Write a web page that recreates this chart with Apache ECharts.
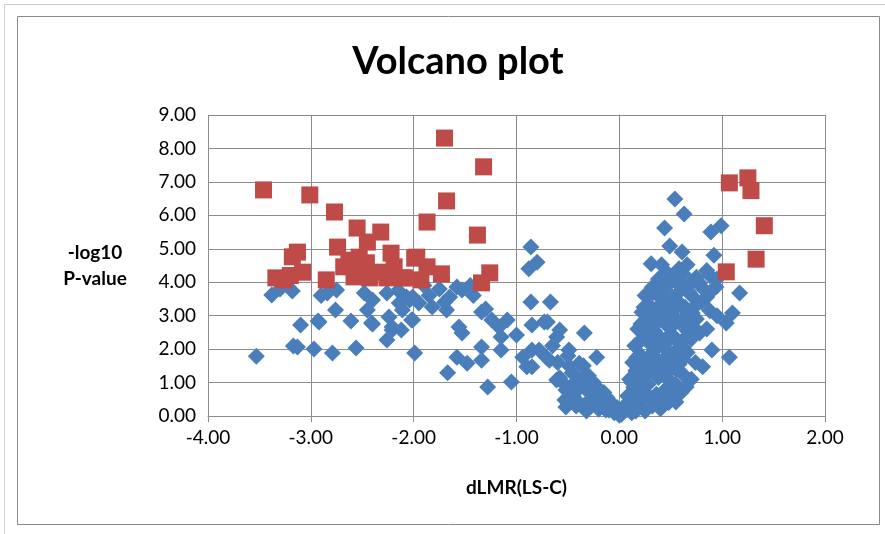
<!DOCTYPE html>
<html><head><meta charset="utf-8">
<script src="https://cdn.jsdelivr.net/npm/echarts@6/dist/echarts.min.js"></script>
<style>html,body{margin:0;padding:0;background:#fff;}#c{width:885px;height:534px;}</style>
</head><body><div id="c"></div>
<script>
const titleText = 'Volcano plot';
const xName = 'dLMR(LS-C)';
const yName = '-log10\nP-value';
const xTicks = [-4, -3, -2, -1, 0, 1, 2];
const yTicks = [0, 1, 2, 3, 4, 5, 6, 7, 8, 9];

const significant = [
  [-3.46,6.76],[-3.01,6.61],[-2.77,6.10],[-1.70,8.31],[-1.32,7.45],[-1.68,6.43],[-1.87,5.80],[-1.38,5.41],
  [-2.55,5.62],[-2.32,5.50],[-2.74,5.05],[-2.45,5.20],[-3.13,4.90],[-3.18,4.76],[-2.22,4.87],[-1.99,4.72],
  [-3.08,4.30],[-3.34,4.13],[-3.26,4.07],[-2.85,4.07],[-2.68,4.46],[-2.58,4.16],[-2.46,4.58],[-2.43,4.13],
  [-2.26,4.13],[-2.19,4.46],[-2.11,4.13],[-2.63,4.66],[-2.53,4.75],[-1.97,4.75],[-1.87,4.46],[-1.73,4.25],
  [-2.09,4.13],[-1.93,4.07],[-1.26,4.28],[-1.34,3.98],[-3.20,4.20],[-2.55,4.30],[-2.35,4.30],
  [1.07,6.97],[1.25,7.12],[1.28,6.74],[1.41,5.69],[1.33,4.69],[1.04,4.31]
];

const notSignificant = [
  [-3.53,1.79],[-3.38,3.62],[-3.18,3.74],[-3.10,2.72],[-3.17,2.09],[-3.13,2.06],[-2.97,2.00],[-2.93,2.84],
  [-2.79,1.88],[-2.84,3.68],[-2.75,3.77],[-2.76,3.17],[-2.61,2.84],[-2.56,2.03],[-2.40,2.75],[-2.45,3.17],
  [-2.40,3.47],[-2.26,3.68],[-2.24,2.96],[-2.21,2.57],[-2.26,2.27],[-2.14,3.38],[-2.07,3.56],[-2.02,2.87],
  [-1.99,1.88],[-2.48,3.68],[-3.30,3.80],[-2.90,3.60],[-2.92,2.81],[-2.41,2.78],[-2.21,2.66],[-2.11,3.17],
  [-2.01,3.56],
  [-1.53,3.77],[-1.58,3.86],[-1.65,3.56],[-1.68,3.17],[-1.82,3.26],[-1.95,3.38],[-2.04,3.47],[-2.01,2.87],
  [-2.12,2.57],[-1.56,2.66],[-1.53,2.48],[-1.34,3.11],[-1.24,2.87],[-1.17,2.66],[-1.09,2.87],[-1.00,2.42],
  [-1.15,2.36],[-1.15,1.97],[-1.34,2.06],[-1.34,1.67],[-1.48,1.58],[-1.58,1.76],[-1.67,1.29],[-1.28,0.87],
  [-1.05,1.02],[-0.90,1.47],[-0.85,1.97],[-0.85,2.72],[-0.86,3.41],[-0.67,3.41],[-0.88,4.40],[-0.86,5.05],
  [-0.80,4.60],[-0.73,2.81],[-0.94,1.76],[-0.71,1.76],[-0.61,2.36],[-0.58,2.57],[-0.49,1.97],[-0.34,2.48],
  [-1.75,3.80],[-1.85,3.60],[-1.45,3.90],[-1.42,3.60],[-1.90,3.90],[-2.15,3.75],[-1.70,3.40],[-1.30,3.20],
  [-0.61,1.08],[-0.52,0.78],[-0.46,1.29],[-0.39,1.58],[-0.32,0.99],[-0.22,0.87],[-0.17,0.48],[-0.10,0.18],
  [-0.52,0.27],[-0.39,0.39],[-0.70,2.81],[-0.78,1.97],[-0.58,1.14],[-0.53,0.48],[-0.22,1.76],[-0.29,0.69],
  [-0.13,0.18],[0.00,0.02],[-0.42,0.99],[-0.48,1.47],[-0.68,1.67],[-0.85,1.47],[-0.45,0.60],[-0.35,0.30],
  [-0.25,0.40],[-0.20,0.20],[-0.30,1.20],[-0.40,0.80],[-0.55,1.00],[-0.60,1.60],[-0.15,0.70],[-0.05,0.10],
  [-0.08,0.40],[-0.25,1.00],[-0.35,1.50],[-0.50,1.80],[-0.65,2.10],
  [-0.45,0.95],[-0.38,1.10],[-0.28,0.50],[-0.18,0.35],[-0.12,0.55],[-0.48,0.45],[-0.42,0.30],[-0.32,0.15],
  [-0.22,0.60],[-0.10,0.30],[-0.02,0.25],
  [0.54,6.49],[0.63,6.04],[0.44,5.62],[0.89,5.50],[0.99,5.69],[0.49,5.08],[0.61,4.90],[0.92,4.81],
  [0.31,4.55],[0.41,4.52],[1.17,3.68],[1.10,3.08],[1.04,2.78],[1.07,1.76],[0.22,2.57],[0.90,1.97],
  [0.66,4.52],[0.78,3.98],[0.85,3.56],[0.94,3.86],[0.71,3.08],[0.78,2.48],[0.81,1.47],[0.65,0.87],
  [0.55,0.42],[0.88,4.20],[0.95,4.10],
  [0.02,0.05],[0.08,0.20],[0.12,0.10],[0.18,0.35],[0.25,0.15],[0.32,0.30],[0.40,0.22],[0.48,0.40],
  [0.08,0.60],[0.14,0.85],[0.20,0.70],[0.28,0.95],[0.36,0.65],[0.45,0.80],[0.55,0.95],
  [0.10,1.10],[0.16,1.35],[0.22,1.20],[0.30,1.45],[0.38,1.15],[0.46,1.30],[0.55,1.40],[0.62,1.25],
  [0.13,1.60],[0.20,1.85],[0.27,1.70],[0.34,1.95],[0.42,1.65],[0.50,1.80],[0.58,1.55],[0.66,1.90],
  [0.15,2.10],[0.22,2.30],[0.30,2.15],[0.38,2.40],[0.46,2.20],[0.54,2.35],[0.62,2.05],[0.70,2.30],
  [0.18,2.60],[0.25,2.85],[0.33,2.70],[0.41,2.95],[0.50,2.65],[0.58,2.80],[0.66,2.55],[0.75,2.90],
  [0.22,3.10],[0.28,3.35],[0.36,3.20],[0.45,3.45],[0.52,3.15],[0.60,3.30],[0.68,3.05],[0.80,3.40],[0.88,3.15],
  [0.25,3.60],[0.32,3.85],[0.40,3.70],[0.48,3.95],[0.56,3.65],[0.64,3.80],[0.72,3.55],[0.90,3.75],
  [0.38,4.10],[0.46,4.30],[0.54,4.05],[0.62,4.25],[0.75,4.15],[0.85,4.35],
  [0.05,0.30],[0.10,0.45],[0.16,0.15],[0.60,0.70],[0.70,1.10],[0.74,1.60],[0.85,2.60],[0.95,3.00],
  [0.05,0.15],[0.10,0.30],[0.15,0.55],[0.20,0.45],[0.25,0.60],[0.30,0.55],[0.35,0.40],[0.42,0.55],[0.50,0.65],
  [0.12,1.00],[0.18,1.05],[0.25,1.25],[0.33,1.30],[0.40,1.45],[0.48,1.10],[0.52,1.55],
  [0.17,1.75],[0.24,1.55],[0.30,1.80],[0.37,1.70],[0.45,2.00],[0.55,1.95],[0.62,1.70],
  [0.19,2.20],[0.26,2.45],[0.34,2.55],[0.42,2.15],[0.50,2.45],[0.58,2.20],[0.66,2.40],
  [0.21,2.75],[0.29,2.95],[0.37,2.80],[0.45,2.75],[0.54,2.95],[0.62,2.90],[0.70,2.70],
  [0.24,3.25],[0.32,3.05],[0.40,3.30],[0.48,3.20],[0.56,3.45],[0.64,3.25],[0.74,3.30],
  [0.28,3.55],[0.36,3.65],[0.44,3.80],[0.52,3.55],[0.60,3.90],[0.68,3.70],[0.80,3.85],
  [0.42,3.95],[0.50,4.10],[0.58,4.40],[0.70,4.00]
];

const axisGray = '#8c8c8c';
const fontFam = 'Lato, "Liberation Sans", sans-serif';

const chart = echarts.init(document.getElementById('c'), null, {renderer: 'canvas'});
chart.setOption({
  animation: false,
  backgroundColor: '#fff',
  title: {
    text: titleText, left: 453, top: 38, textAlign: 'center',
    textStyle: {fontFamily: fontFam, fontWeight: 'bold', fontSize: 38, color: '#000'}
  },
  graphic: [
    {type: 'rect', shape: {x: 4.5, y: 4.5, width: 890, height: 540}, style: {fill: 'none', stroke: '#cfcfcf', lineWidth: 1}, silent: true},
    {type: 'rect', shape: {x: 17.5, y: 16.5, width: 862, height: 508}, style: {fill: 'none', stroke: '#8a8a8a', lineWidth: 1}, silent: true}
  ],
  grid: {left: 208, right: 60, top: 115, bottom: 118, containLabel: false},
  xAxis: {
    type: 'value', min: xTicks[0], max: xTicks[xTicks.length - 1], interval: 1,
    name: xName, nameLocation: 'middle', nameGap: 62,
    nameTextStyle: {fontFamily: fontFam, fontWeight: 'bold', fontSize: 19, color: '#000'},
    axisLine: {show: true, onZero: false, lineStyle: {color: axisGray, width: 1}},
    axisTick: {show: true, length: 6, lineStyle: {color: axisGray}},
    axisLabel: {fontFamily: fontFam, fontSize: 19, color: '#000', margin: 12, formatter: v => v.toFixed(2)},
    splitLine: {show: true, lineStyle: {color: axisGray, width: 1}}
  },
  yAxis: {
    type: 'value', min: yTicks[0], max: yTicks[yTicks.length - 1], interval: 1,
    name: yName, nameLocation: 'middle', nameGap: 113, nameRotate: 0,
    nameTextStyle: {fontFamily: fontFam, fontWeight: 'bold', fontSize: 19, color: '#000', align: 'center', lineHeight: 26},
    axisLine: {show: true, lineStyle: {color: axisGray, width: 1}},
    axisTick: {show: true, length: 6, lineStyle: {color: axisGray}},
    axisLabel: {fontFamily: fontFam, fontSize: 19, color: '#000', margin: 12, formatter: v => v.toFixed(2)},
    splitLine: {show: true, lineStyle: {color: axisGray, width: 1}}
  },
  series: [
    {
      type: 'scatter', name: 'ns', data: notSignificant, symbol: 'diamond', symbolSize: 17,
      itemStyle: {color: '#4a7ebb', opacity: 1}, z: 2
    },
    {
      type: 'scatter', name: 'sig', data: significant, symbol: 'rect', symbolSize: 17,
      itemStyle: {color: '#be4b48', opacity: 1}, z: 3
    }
  ]
});
</script></body></html>
